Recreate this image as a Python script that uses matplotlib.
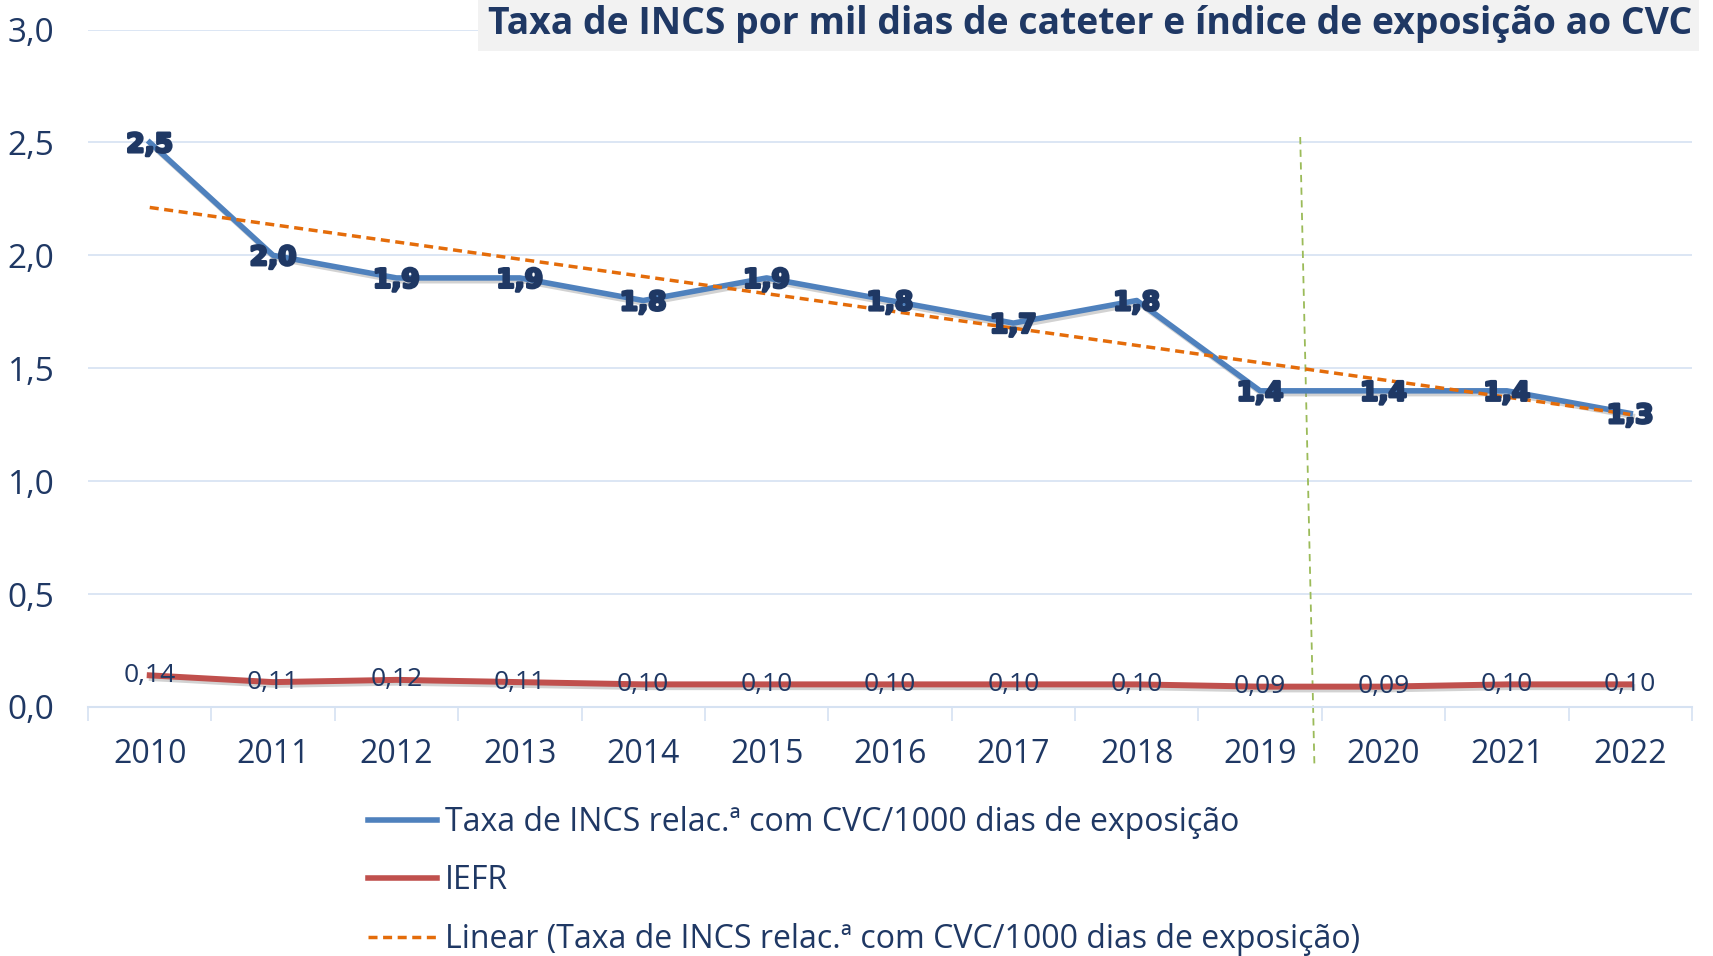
import numpy as np
import matplotlib
matplotlib.use("Agg")
import matplotlib.pyplot as plt
import matplotlib.patheffects as pe
from matplotlib.lines import Line2D
from matplotlib.patches import Rectangle

# Dados
anos = ["2010", "2011", "2012", "2013", "2014", "2015", "2016",
        "2017", "2018", "2019", "2020", "2021", "2022"]
taxa_incs = [2.5, 2.0, 1.9, 1.9, 1.8, 1.9, 1.8, 1.7, 1.8, 1.4, 1.4, 1.4, 1.3]
iefr = [0.14, 0.11, 0.12, 0.11, 0.10, 0.10, 0.10, 0.10, 0.10, 0.09, 0.09, 0.10, 0.10]
y_ticks = [0.0, 0.5, 1.0, 1.5, 2.0, 2.5, 3.0]

titulo = "Taxa de INCS por mil dias de cateter e índice de exposição ao CVC"
nome_taxa = "Taxa de INCS relac.ª com CVC/1000 dias de exposição"
nome_iefr = "IEFR"
nome_linear = "Linear (Taxa de INCS relac.ª com CVC/1000 dias de exposição)"

AZUL = "#4f81bd"
VERMELHO = "#c0504d"
LARANJA = "#e46c0a"
VERDE = "#9bbb59"
TEXTO = "#1f3864"
GRELHA = "#d6e2f2"

plt.rcParams["font.family"] = ["Open Sans", "DejaVu Sans"]

fig = plt.figure(figsize=(17.13, 9.56), dpi=100)
ax = fig.add_axes([0.0514, 0.2605, 0.9363, 0.7086])

x = np.arange(len(anos))
sombra = [pe.SimpleLineShadow(offset=(1.5, -2), shadow_color="gray", alpha=0.35), pe.Normal()]

# tendência linear
coef = np.polyfit(x, taxa_incs, 1)
tendencia = np.polyval(coef, x)

ax.plot(x, taxa_incs, color=AZUL, lw=4, solid_joinstyle="round",
        path_effects=sombra, zorder=3)
ax.plot(x, iefr, color=VERMELHO, lw=4.3, solid_joinstyle="round",
        path_effects=sombra, zorder=3)
ax.plot(x, tendencia, color=LARANJA, lw=2.5, dashes=(2.6, 1.6), zorder=4)

# linha vertical (mudança de método)
ax.plot([9.325, 9.44], [2.524, -0.257], color=VERDE, lw=1.3,
        dashes=(4, 3), clip_on=False, zorder=2)

for xi, v in zip(x, taxa_incs):
    ax.text(xi, v - 0.012, f"{v:.1f}".replace(".", ","), ha="center", va="center",
            fontsize=19, fontweight="heavy", color=TEXTO, family="DejaVu Sans",
            path_effects=[pe.withStroke(linewidth=2.0, foreground=TEXTO)], zorder=5)
for xi, v in zip(x, iefr):
    ax.text(xi, v, f"{v:.2f}".replace(".", ","), ha="center", va="center",
            fontsize=19, color=TEXTO, zorder=5)

ax.set_xlim(-0.5, len(anos) - 0.5)
ax.set_ylim(0, 3.0)
ax.set_yticks(y_ticks)
ax.set_yticklabels([f"{t:.1f}".replace(".", ",") for t in y_ticks])
ax.set_xticks(x)
ax.set_xticklabels(anos)
ax.set_xticks(np.arange(-0.5, len(anos), 1), minor=True)
ax.tick_params(axis="x", which="major", length=0, pad=22, labelsize=23, labelcolor=TEXTO)
ax.tick_params(axis="x", which="minor", length=10, width=1.2, color=GRELHA)
ax.tick_params(axis="y", length=0, pad=24, labelsize=24, labelcolor=TEXTO)

ax.grid(axis="y", color=GRELHA, lw=1.2)
ax.set_axisbelow(True)
for s in ["top", "right", "left"]:
    ax.spines[s].set_visible(False)
ax.spines["bottom"].set_color(GRELHA)
ax.spines["bottom"].set_linewidth(1.5)

# título com caixa cinzenta
fig.add_artist(Rectangle((0.279, 0.947), 0.713, 0.053, transform=fig.transFigure,
                         facecolor="#f2f2f2", edgecolor="none", zorder=10))
fig.text(0.6365, 0.975, titulo, ha="center", va="center", fontsize=26.9,
         fontweight="bold", color=TEXTO, zorder=11)

handles = [Line2D([], [], color=AZUL, lw=4),
           Line2D([], [], color=VERMELHO, lw=4),
           Line2D([], [], color=LARANJA, lw=2.5, dashes=(2.6, 1.6))]
leg = fig.legend(handles, [nome_taxa, nome_iefr, nome_linear],
                 loc="upper left", bbox_to_anchor=(0.215, 0.157),
                 frameon=False, fontsize=23, borderpad=0, borderaxespad=0,
                 handlelength=2.15, handletextpad=0.25, labelspacing=0.8)
for t in leg.get_texts():
    t.set_color(TEXTO)

fig.savefig("out.png", dpi=100)
